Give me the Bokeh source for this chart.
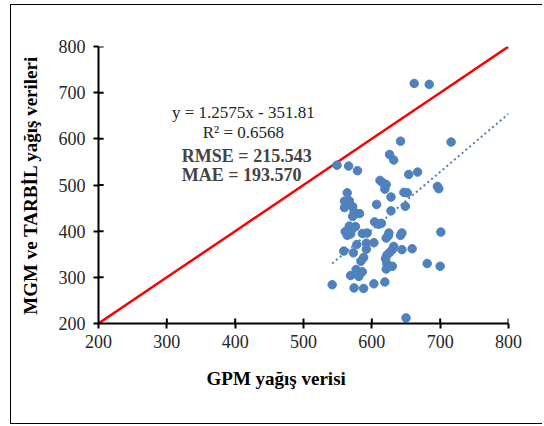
import numpy as np
from bokeh.plotting import figure
from bokeh.models import Label, FixedTicker, Range1d, Title
from bokeh.embed import file_html
from bokeh.resources import INLINE

# GPM (x) vs MGM/TARBIL (y) precipitation values
gpm = [662, 684, 642, 716, 626, 632, 549, 566, 579, 654, 667, 612, 616, 621, 619,
       696, 698, 564, 647, 652, 628, 560, 567, 607, 649, 560, 572, 574, 582, 628,
       572, 604, 610, 614, 567, 576, 561, 564, 569, 571, 586, 593, 625, 621, 624,
       642, 644, 701, 578, 592, 603, 592, 559, 573, 632, 630, 626, 622, 644, 659,
       620, 588, 584, 622, 621, 630, 681, 700, 577, 586, 569, 581, 542, 574, 588,
       603, 619, 650]
obs = [720, 718, 595, 593, 566, 554, 543, 541, 531, 523, 528, 510, 505, 501, 491,
       497, 492, 483, 484, 483, 474, 465, 466, 458, 454, 451, 453, 442, 438, 444,
       432, 420, 415, 417, 411, 410, 399, 391, 394, 404, 395, 396, 396, 385, 390,
       391, 396, 398, 371, 374, 375, 361, 357, 353, 367, 360, 354, 348, 360, 362,
       340, 343, 335, 330, 318, 324, 330, 324, 317, 312, 304, 302, 284, 277, 276,
       286, 290, 212]

slope = 1.2575
intercept = -351.81
axis_ticks = [200, 300, 400, 500, 600, 700, 800]

font = "Liberation Serif"

p = figure(width=532, height=420, output_backend="svg", toolbar_location=None,
           x_range=Range1d(200, 800), y_range=Range1d(200, 800),
           min_border_left=87, min_border_right=35, min_border_top=41,
           min_border_bottom=102)
p.styles = {"border-left": "1.5px solid #000000",
            "border-top": "1.5px solid #000000",
            "border-bottom": "1.5px solid #000000",
            "margin-left": "10px", "margin-top": "4px"}
p.outline_line_color = None
p.grid.visible = False

for ax in (p.xaxis[0], p.yaxis[0]):
    ax.ticker = FixedTicker(ticks=axis_ticks)
    ax.axis_line_color = "black"
    ax.axis_line_width = 2
    ax.major_tick_line_color = "black"
    ax.major_tick_line_width = 2
    ax.major_tick_in = 0
    ax.major_tick_out = 5
    ax.minor_tick_line_color = None
    ax.major_label_text_font = font
    ax.major_label_text_font_size = "18px"
    ax.major_label_text_color = "#262626"
p.xaxis.major_label_standoff = 6
p.yaxis.major_label_standoff = 8

# inner halves of the tick marks
inner = [t for t in axis_ticks if t > 200]
p.segment(x0=inner, y0=[200] * len(inner), x1=inner, y1=[211] * len(inner),
          line_color="black", line_width=2)
p.segment(x0=[200] * len(inner), y0=inner, x1=[207.5] * len(inner), y1=inner,
          line_color="black", line_width=2)

# y axis title
p.yaxis.axis_label = "MGM ve TARBİL yağış verileri"
p.yaxis.axis_label_text_font = font
p.yaxis.axis_label_text_font_size = "19px"
p.yaxis.axis_label_text_font_style = "bold"
p.yaxis.axis_label_text_color = "black"
p.yaxis.axis_label_standoff = 15

# x axis title
p.add_layout(Title(text="GPM yağış verisi", align="left", offset=108,
                   standoff=31, text_font=font, text_font_size="19px",
                   text_font_style="bold", text_color="black"), "below")

# 1:1 line
p.line(axis_ticks, axis_ticks, line_color="#FF0000", line_width=2.5)

# trendline
tx = np.array([min(gpm), 800.0])
p.line(tx, slope * tx + intercept, line_color="#4F81BD", line_width=2,
       line_dash="2 3")

p.scatter(gpm, obs, size=8.5, fill_color="#4F81BD", line_color="#4F81BD")

p.add_layout(Label(x=412, y=657, text="y = 1.2575x - 351.81", text_font=font,
                   text_font_size="17px", text_align="center",
                   text_baseline="middle", text_color="#262626"))
p.add_layout(Label(x=412, y=614, text="R² = 0.6568", text_font=font,
                   text_font_size="17px", text_align="center",
                   text_baseline="middle", text_color="#262626"))
p.add_layout(Label(x=322, y=562, text="RMSE = 215.543", text_font=font,
                   text_font_size="18px", text_font_style="bold",
                   text_align="left", text_baseline="middle"))
p.add_layout(Label(x=322, y=521, text="MAE = 193.570", text_font=font,
                   text_font_size="18px", text_font_style="bold",
                   text_align="left", text_baseline="middle"))

open("out.html", "w").write(file_html(p, INLINE))
